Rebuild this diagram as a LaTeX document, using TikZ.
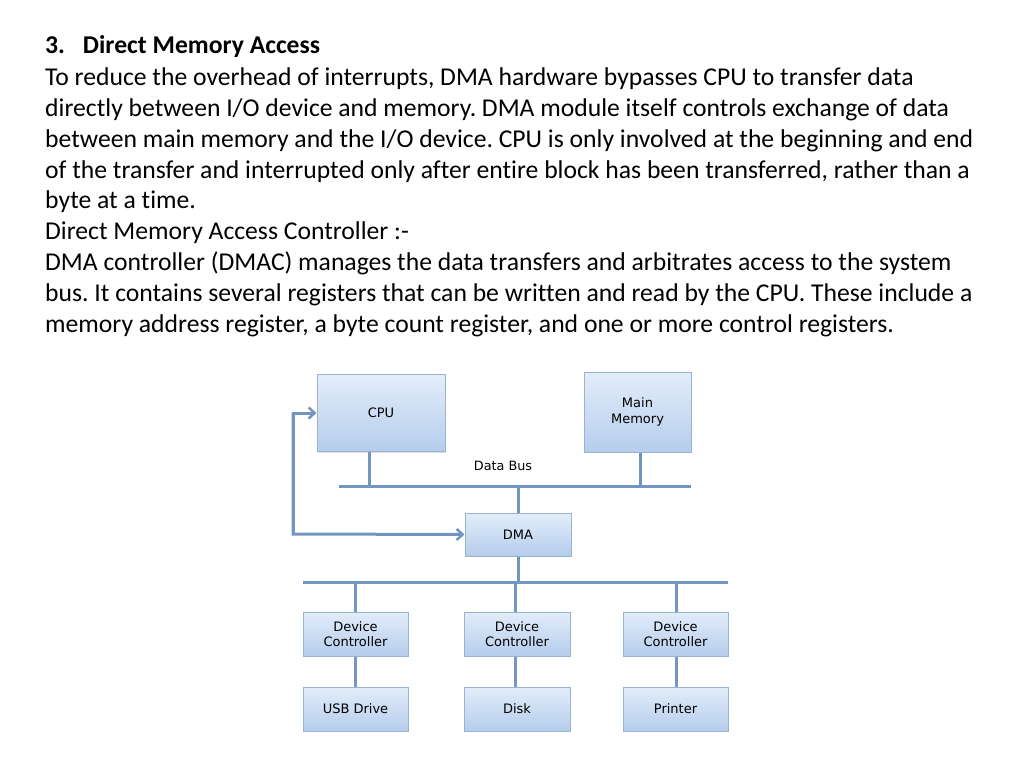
\documentclass[tikz,border=0pt]{standalone}
\usepackage{fontspec}
\setmainfont[Ligatures=NoCommon]{Carlito}
\newfontfamily\diagfont{DejaVu Sans}
\usetikzlibrary{arrows.meta,shadows}
\definecolor{lineblue}{HTML}{7396C0}
\definecolor{boxedge}{HTML}{9AB3D3}
\definecolor{boxtop}{HTML}{E3EDFA}
\definecolor{boxbot}{HTML}{B5CDEC}
\frenchspacing
\tikzset{
  txt/.style={anchor=base west, inner sep=0pt, font=\fontsize{25.65}{30}\selectfont},
  boxnode/.style={draw=boxedge, line width=1pt, top color=boxtop, bottom color=boxbot,
    minimum width=#1, inner sep=0pt, align=center, font=\diagfont\fontsize{13}{15.5}\selectfont,
    drop shadow={opacity=0.25, shadow xshift=1.2pt, shadow yshift=-1.2pt}},
  wire/.style={draw=lineblue, line width=3pt},
  arr/.style={draw=lineblue, line width=3pt, -{Straight Barb[length=6pt,width=11pt,line width=2.5pt]}},
  lbl/.style={font=\diagfont\fontsize{12.8}{14}\selectfont, inner sep=0pt}
}
\begin{document}
\begin{tikzpicture}[x=1pt,y=-1pt]
\useasboundingbox (0,0) rectangle (1024,768);
% text
\node[txt] (l1) at (45,54) {\textbf{3.\hspace{0.7em}Direct Memory Access}};
\node[txt] (l2) at (45,85) {To reduce the overhead of interrupts, DMA hardware bypasses CPU to transfer data};
\node[txt] (l3) at (45,116) {directly between I/O device and memory. DMA module itself controls exchange of data};
\node[txt] (l4) at (45,147) {between main memory and the I/O device. CPU is only involved at the beginning and end};
\node[txt] (l5) at (45,178) {of the transfer and interrupted only after entire block has been transferred, rather than a};
\node[txt] (l6) at (45,208) {byte at a time.};
\node[txt] (l7) at (45,239) {Direct Memory Access Controller :-};
\node[txt] (l8) at (45,270) {DMA controller (DMAC) manages the data transfers and arbitrates access to the system};
\node[txt] (l9) at (45,301) {bus. It contains several registers that can be written and read by the CPU. These include a};
\node[txt] (l10) at (45,332) {memory address register, a byte count register, and one or more control registers.};
% coordinates
\coordinate (busL) at (339,486);
\coordinate (busR) at (691,486);
\coordinate (bus2L) at (303,582);
\coordinate (bus2R) at (728,582);
\coordinate (loopT) at (293,413);
\coordinate (loopB) at (293,534);
% boxes
\node[boxnode=128pt, minimum height=77pt] (cpu) at (381,413) {CPU};
\node[boxnode=107pt, minimum height=80pt] (mem) at (637.5,412) {Main\\Memory};
\node[boxnode=106pt, minimum height=43pt] (dma) at (518,534.5) {DMA};
\node[boxnode=105pt, minimum height=44pt] (dc1) at (355.5,634) {Device\\Controller};
\node[boxnode=106pt, minimum height=44pt] (dc2) at (517,634) {Device\\Controller};
\node[boxnode=105pt, minimum height=44pt] (dc3) at (675.5,634) {Device\\Controller};
\node[boxnode=105pt, minimum height=44pt] (usb) at (355.5,709) {USB Drive};
\node[boxnode=106pt, minimum height=44pt] (disk) at (517,709) {Disk};
\node[boxnode=105pt, minimum height=44pt] (prn) at (675.5,709) {Printer};
\node[lbl] (dbus) at (503,466) {Data Bus};
% buses
\draw[wire] (busL) -- (busR);
\draw[wire] (bus2L) -- (bus2R);
\draw[wire] (cpu.south -| 369,0) -- (369,486);
\draw[wire] (mem.south -| 640,0) -- (640,486);
\draw[wire] (518,486) -- (dma.north);
\draw[wire] (dma.south) -- (518,582);
\draw[wire] (355,582) -- (dc1.north -| 355,0);
\draw[wire] (515,582) -- (dc2.north -| 515,0);
\draw[wire] (676,582) -- (dc3.north -| 676,0);
\draw[wire] (dc1.south -| 355,0) -- (usb.north -| 355,0);
\draw[wire] (dc2.south -| 515,0) -- (disk.north -| 515,0);
\draw[wire] (dc3.south -| 676,0) -- (prn.north -| 676,0);
% loop arrows
\draw[arr] (loopB) -- (loopT) -- (cpu.west |- loopT);
\draw[arr] (loopT) -- (loopB) -- (dma.west);
\end{tikzpicture}
\end{document}
